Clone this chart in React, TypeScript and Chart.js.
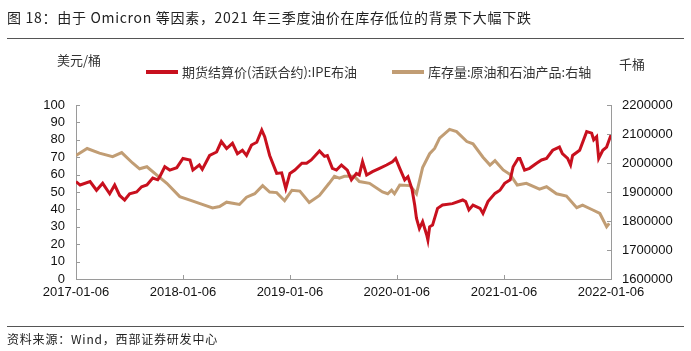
import React, { useEffect, useRef } from "react";
import { Chart, registerables } from "chart.js";

Chart.register(...registerables);

// 期货结算价(活跃合约):IPE布油 (美元/桶)
const brentDates = [
  "2017-01-06", "2017-01-20", "2017-02-23", "2017-03-17", "2017-04-07", "2017-05-01", "2017-05-18",
  "2017-06-04", "2017-06-21", "2017-07-08", "2017-08-01", "2017-08-18", "2017-09-05", "2017-09-25",
  "2017-10-12", "2017-10-19", "2017-11-05", "2017-11-22", "2017-12-16", "2018-01-06", "2018-01-30",
  "2018-02-09", "2018-03-03", "2018-03-13", "2018-04-07", "2018-05-01", "2018-05-17", "2018-06-04",
  "2018-06-24", "2018-07-11", "2018-07-28", "2018-08-11", "2018-08-28", "2018-09-15", "2018-10-02",
  "2018-10-12", "2018-10-29", "2018-11-22", "2018-12-09", "2018-12-23", "2019-01-06", "2019-01-23",
  "2019-02-16", "2019-03-04", "2019-03-20", "2019-04-17", "2019-05-04", "2019-05-14", "2019-05-31",
  "2019-06-14", "2019-07-01", "2019-07-21", "2019-08-04", "2019-08-21", "2019-08-31", "2019-09-11",
  "2019-09-25", "2019-10-15", "2019-11-08", "2019-12-02", "2019-12-22", "2020-01-02", "2020-01-16",
  "2020-02-02", "2020-02-13", "2020-02-27", "2020-03-07", "2020-03-13", "2020-03-23", "2020-04-03",
  "2020-04-17", "2020-04-21", "2020-04-27", "2020-05-07", "2020-05-24", "2020-06-10", "2020-07-14",
  "2020-08-18", "2020-08-28", "2020-09-08", "2020-09-22", "2020-10-16", "2020-10-26", "2020-11-12",
  "2020-12-06", "2020-12-23", "2021-01-08", "2021-01-27", "2021-02-06", "2021-02-23", "2021-03-01",
  "2021-03-17", "2021-04-03", "2021-04-27", "2021-05-14", "2021-05-31", "2021-06-21", "2021-07-14",
  "2021-07-24", "2021-08-11", "2021-08-21", "2021-08-28", "2021-09-21", "2021-10-15", "2021-11-01",
  "2021-11-08", "2021-11-18", "2021-11-25", "2021-12-09", "2021-12-22", "2022-01-06",
];
const brentValues = [
  56, 54, 56, 51, 55, 49, 54,
  48, 45.4, 49, 50, 53, 54, 58,
  57, 58.8, 64.5, 62.6, 64, 69.3, 68.4,
  62.6, 65.5, 63, 71, 73, 79, 75,
  78, 72, 74, 71, 77, 78.6, 85.6,
  81.8, 71, 60.7, 61, 52, 60.7, 62.6,
  66.5, 66.5, 68.4, 73.6, 70.5, 71, 63.6,
  62.6, 65.5, 62.6, 57, 60.7, 59.8, 67.4,
  59.8, 61.7, 63.6, 65.5, 67.4, 69.3, 63.6,
  57, 58.8, 51.5, 42.5, 35, 29, 33,
  25.3, 22.4, 30, 31, 40.6, 42.5, 43.3,
  45.4, 44.5, 39.7, 42.5, 40.6, 37.7, 44.5,
  49.2, 51, 55, 57, 64.5, 69.3, 69.3,
  62.6, 63.6, 66.5, 68.4, 69.3, 74, 75.8,
  72, 69.3, 65.5, 71, 74, 84.7, 83.8,
  80, 81.8, 69.3, 74, 75.8, 82.8,
];

// 库存量:原油和石油产品 (千桶, 右轴)
const stockDates = [
  "2017-01-06", "2017-02-13", "2017-03-27", "2017-05-11", "2017-06-11", "2017-07-18", "2017-08-11",
  "2017-09-05", "2017-10-08", "2017-11-12", "2017-12-26", "2018-01-30", "2018-03-03", "2018-04-17",
  "2018-05-11", "2018-06-04", "2018-07-18", "2018-08-11", "2018-09-08", "2018-10-05", "2018-10-29",
  "2018-11-22", "2018-12-19", "2019-01-13", "2019-02-09", "2019-03-13", "2019-04-17", "2019-05-20",
  "2019-06-07", "2019-06-24", "2019-07-11", "2019-08-14", "2019-08-31", "2019-10-05", "2019-11-18",
  "2019-12-06", "2019-12-19", "2019-12-29", "2020-01-16", "2020-02-20", "2020-03-01", "2020-03-13",
  "2020-04-03", "2020-04-27", "2020-05-14", "2020-05-31", "2020-07-04", "2020-07-28", "2020-09-01",
  "2020-09-22", "2020-10-26", "2020-11-19", "2020-12-06", "2021-01-03", "2021-01-27", "2021-02-20",
  "2021-03-23", "2021-05-07", "2021-05-31", "2021-07-04", "2021-08-07", "2021-09-11", "2021-10-01",
  "2021-11-05", "2021-11-29", "2021-12-22", "2021-12-31",
];
const stockValues = [
  2026000, 2050000, 2034000, 2022000, 2036000, 2000000, 1980000,
  1987000, 1959000, 1930000, 1884000, 1872000, 1861000, 1845000,
  1850000, 1865000, 1857000, 1882000, 1894000, 1922000, 1900000,
  1898000, 1870000, 1906000, 1903000, 1864000, 1888000, 1930000,
  1954000, 1948000, 1954000, 1954000, 1936000, 1930000, 1900000,
  1894000, 1906000, 1894000, 1924000, 1922000, 1910000, 1894000,
  1984000, 2032000, 2050000, 2086000, 2116000, 2108000, 2074000,
  2066000, 2020000, 1993000, 2008000, 1976000, 1960000, 1924000,
  1930000, 1910000, 1918000, 1894000, 1886000, 1846000, 1855000,
  1838000, 1826000, 1780000, 1792000,
];

const xTickLabels = ["2017-01-06", "2018-01-06", "2019-01-06", "2020-01-06", "2021-01-06", "2022-01-06"];

const RED = "#C8101E";
const TAN = "#C19D74";
const AXIS = "#9a9a9a";
const BASE = Date.UTC(2017, 0, 6);
const toDay = (s: string) => {
  const [y, m, d] = s.split("-").map(Number);
  return Math.round((Date.UTC(y, m - 1, d) - BASE) / 86400000);
};

const innerTicks = {
  id: "innerTicks",
  afterDraw(chart: any) {
    const ctx = chart.ctx;
    const { left, right, bottom } = chart.chartArea;
    ctx.save();
    ctx.strokeStyle = AXIS;
    ctx.lineWidth = 1;
    ctx.beginPath();
    const yl = chart.scales.y;
    yl.ticks.forEach((_t: any, i: number) => {
      const p = Math.round(yl.getPixelForTick(i)) + 0.5;
      ctx.moveTo(left, p);
      ctx.lineTo(left + 4, p);
    });
    const yr = chart.scales.y1;
    yr.ticks.forEach((_t: any, i: number) => {
      const p = Math.round(yr.getPixelForTick(i)) + 0.5;
      ctx.moveTo(right, p);
      ctx.lineTo(right - 4, p);
    });
    const xs = chart.scales.x;
    xs.ticks.forEach((_t: any, i: number) => {
      const p = Math.round(xs.getPixelForTick(i)) + 0.5;
      ctx.moveTo(p, bottom);
      ctx.lineTo(p, bottom - 4);
    });
    ctx.stroke();
    ctx.restore();
  },
};

const tickFont = { family: "'Liberation Sans', Arial, sans-serif", size: 13 };

export default function App() {
  const ref = useRef<HTMLCanvasElement>(null);

  useEffect(() => {
    if (!ref.current) return;
    const chart = new Chart(ref.current, {
      type: "line",
      data: {
        datasets: [
          {
            label: "期货结算价(活跃合约):IPE布油",
            data: brentDates.map((d, i) => ({ x: toDay(d), y: brentValues[i] })),
            borderColor: RED,
            backgroundColor: RED,
            borderWidth: 3,
            pointRadius: 0,
            yAxisID: "y",
          },
          {
            label: "库存量:原油和石油产品:右轴",
            data: stockDates.map((d, i) => ({ x: toDay(d), y: stockValues[i] })),
            borderColor: TAN,
            backgroundColor: TAN,
            borderWidth: 3,
            pointRadius: 0,
            yAxisID: "y1",
          },
        ],
      },
      options: {
        responsive: false,
        animation: false,
        layout: { padding: { top: 105, left: 0, right: 0, bottom: 0 } },
        plugins: { legend: { display: false }, tooltip: { enabled: false } },
        scales: {
          x: {
            type: "linear",
            min: 0,
            max: toDay(xTickLabels[xTickLabels.length - 1]),
            afterBuildTicks: (s: any) => {
              s.ticks = xTickLabels.map((l) => ({ value: toDay(l) }));
            },
            afterFit: (s: any) => {
              s.height = 72;
            },
            ticks: {
              autoSkip: false,
              maxRotation: 0,
              padding: 6,
              color: "#111",
              font: tickFont,
              callback: (v: any) => {
                const i = xTickLabels.findIndex((l) => toDay(l) === v);
                return i >= 0 ? xTickLabels[i] : "";
              },
            },
            grid: { display: true, drawOnChartArea: false, drawTicks: false, color: AXIS },
            border: { display: true, color: AXIS, width: 1 },
          },
          y: {
            position: "left",
            min: 0,
            max: 100,
            ticks: { stepSize: 10, autoSkip: false, padding: 11, color: "#111", font: tickFont },
            afterFit: (s: any) => {
              s.width = 76;
            },
            grid: { display: true, drawOnChartArea: false, drawTicks: false, color: AXIS },
            border: { display: true, color: AXIS, width: 1 },
          },
          y1: {
            position: "right",
            min: 1600000,
            max: 2200000,
            ticks: {
              stepSize: 100000,
              autoSkip: false,
              padding: 11,
              color: "#111",
              font: tickFont,
              callback: (v: any) => String(v),
            },
            afterFit: (s: any) => {
              s.width = 80;
            },
            grid: { display: true, drawOnChartArea: false, drawTicks: false, color: AXIS },
            border: { display: true, color: AXIS, width: 1 },
          },
        },
      },
      plugins: [innerTicks],
    } as any);
    return () => chart.destroy();
  }, []);

  const cjk = "'Noto Sans CJK SC', 'Noto Sans', sans-serif";
  const abs = (s: React.CSSProperties): React.CSSProperties => ({ position: "absolute", whiteSpace: "nowrap", ...s });

  return (
    <div style={{ position: "fixed", left: 0, top: 0, width: 691, height: 351, background: "#fff", overflow: "hidden" }}>
      <canvas ref={ref} width={691} height={351} style={{ position: "absolute", left: 0, top: 0, width: 691, height: 351 }} />
      <div style={abs({ left: 7, top: 7, fontFamily: cjk, fontSize: 14, lineHeight: "20px", color: "#222", letterSpacing: 0.7 })}>
        图 18：由于 Omicron 等因素，2021 年三季度油价在库存低位的背景下大幅下跌
      </div>
      <div style={abs({ left: 7, top: 38, width: 677, height: 1, background: "#555" })} />
      <div style={abs({ left: 57, top: 51, fontFamily: cjk, fontSize: 13, lineHeight: "17px", color: "#333" })}>美元/桶</div>
      <div style={abs({ left: 619, top: 55, fontFamily: cjk, fontSize: 13, lineHeight: "17px", color: "#333" })}>千桶</div>
      <div style={abs({ left: 146, top: 70, width: 32, height: 4, background: RED })} />
      <div style={abs({ left: 182, top: 63, fontFamily: cjk, fontSize: 13, lineHeight: "18px", color: "#333" })}>
        期货结算价(活跃合约):IPE布油
      </div>
      <div style={abs({ left: 392, top: 70, width: 32, height: 4, background: TAN })} />
      <div style={abs({ left: 428, top: 63, fontFamily: cjk, fontSize: 13, lineHeight: "18px", color: "#333" })}>
        库存量:原油和石油产品:右轴
      </div>
      <div style={abs({ left: 7, top: 326, width: 677, height: 1, background: "#555" })} />
      <div style={abs({ left: 7, top: 331, fontFamily: cjk, fontSize: 12, lineHeight: "16px", color: "#222", letterSpacing: 0.8 })}>
        资料来源：Wind，西部证券研发中心
      </div>
    </div>
  );
}
